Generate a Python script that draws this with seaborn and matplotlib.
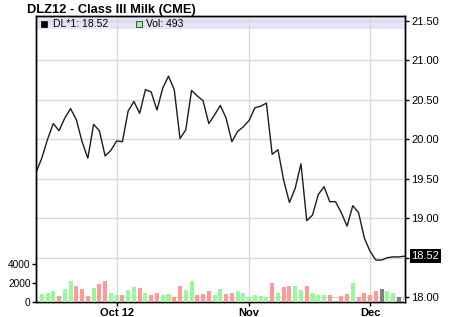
import numpy as np
import pandas as pd
import matplotlib
matplotlib.use("Agg")
import matplotlib.pyplot as plt
import matplotlib.transforms as mtransforms
from matplotlib.patches import Rectangle
import seaborn as sns

# ---------------- data ----------------
title = "DLZ12 - Class III Milk (CME)"
price = [19.58, 19.76, 20.00, 20.20, 20.11, 20.27, 20.39, 20.25, 19.97, 19.76,
         20.19, 20.11, 19.79, 19.86, 19.98, 19.97, 20.36, 20.48, 20.33, 20.63,
         20.60, 20.37, 20.65, 20.80, 20.63, 20.01, 20.12, 20.62, 20.55, 20.49,
         20.20, 20.31, 20.43, 20.27, 19.97, 20.10, 20.16, 20.24, 20.40, 20.42,
         20.46, 19.81, 19.87, 19.48, 19.20, 19.38, 19.69, 18.97, 19.04, 19.30,
         19.40, 19.21, 19.21, 19.07, 18.90, 19.16, 19.07, 18.75, 18.58, 18.47,
         18.47, 18.50, 18.51, 18.51, 18.52]
vol_day = [1, 2, 3, 4, 5, 6, 7, 8, 9, 10, 11, 12, 13, 14, 15, 16, 17, 18, 19, 20,
           21, 22, 23, 24, 25, 26, 27, 28, 29, 30, 31, 32, 33, 34, 35, 36, 37, 38,
           39, 40, 41, 42, 43, 44, 45, 46, 47, 48, 49, 50, 51, 53, 54, 55, 56, 57,
           58, 59, 60, 61, 62, 63, 64]
volume = [860, 960, 1180, 650, 1400, 2260, 1720, 1400, 650, 1530,
          1940, 2260, 970, 750, 750, 1290, 1620, 1510, 970, 760,
          970, 760, 860, 540, 1720, 1290, 2260, 760, 860, 1190,
          760, 1400, 860, 970, 1180, 970, 540, 750, 650, 540,
          2040, 970, 1610, 1720, 1720, 1290, 1720, 970, 750, 750,
          750, 650, 860, 2040, 540, 970, 750, 1180, 1400, 1180,
          970, 540, 493]
vol_dir = ["up", "up", "up", "down", "up", "up", "down", "down", "down", "up",
           "down", "down", "up", "up", "down", "up", "up", "down", "up", "down",
           "down", "up", "up", "down", "down", "up", "up", "down", "down", "down",
           "up", "up", "down", "down", "up", "up", "up", "up", "up", "up",
           "down", "up", "down", "down", "up", "up", "down", "up", "up", "up",
           "down", "down", "down", "up", "down", "down", "down", "down", "flat", "up",
           "up", "flat", "up"]
month_pos = [14, 37, 58]
month_labels = ["Oct 12", "Nov", "Dec"]
price_ticks = [18.00, 18.50, 19.00, 19.50, 20.00, 20.50, 21.00, 21.50]
price_tick_labels = ["18.00", "", "19.00", "19.50", "20.00", "20.50", "21.00", "21.50"]
vol_ticks = [0, 2000, 4000]
vol_tick_labels = ["0", "2000", "4000"]
last_price = 18.52
last_vol = 493

palette = {"up": "#99f899", "down": "#ff9a9a", "flat": "#808080"}

df_price = pd.DataFrame({"day": np.arange(len(price)), "price": price})
df_vol = pd.DataFrame({"day": vol_day, "volume": volume, "dir": vol_dir})

# ---------------- figure ----------------
W, H = 450, 317
plt.rcParams['font.family'] = ['Liberation Sans', 'DejaVu Sans']
fig = plt.figure(figsize=(W / 100, H / 100), dpi=100)
fig.patch.set_facecolor("white")

def fx(x):
    return x / W

def fy(y):
    return 1 - y / H

ax = fig.add_axes([fx(36), fy(302), (405 - 36) / W, (302 - 16) / H])
axv = ax.twinx()

# price line
sns.lineplot(data=df_price, x="day", y="price", ax=ax, color="#1c1c1c",
             linewidth=1.0, zorder=5)

# volume bars
sns.barplot(data=df_vol, x="day", y="volume", hue="dir", palette=palette,
            native_scale=True, dodge=False, width=0.7, legend=False, ax=axv,
            saturation=1, linewidth=0, zorder=3)

ymin_p, ymax_p = 17.9385, 21.5634
ax.set_ylim(ymin_p, ymax_p)
axv.set_ylim(0, 30300)
ax.set_xlim(0, 64.06)

# legend band
ax.axhspan(21.3987, ymax_p, color="#e3e3f9", lw=0, zorder=0.2)

ax.set_axisbelow(True)
ax.grid(True, color="#d9d9d9", linewidth=1.0)
ax.set_xticks(month_pos)
ax.set_xticklabels(month_labels)
ax.set_yticks(price_ticks)
ax.set_yticklabels(price_tick_labels)
ax.yaxis.tick_right()
ax.tick_params(axis="y", right=True, left=False, labelright=True, labelleft=False,
               length=3, width=1, pad=1.5, labelsize=8, colors="black")
ax.tick_params(axis="x", length=3, width=1, pad=1.5, labelsize=8)
for lbl in ax.get_xticklabels():
    lbl.set_fontweight("bold")

axv.set_yticks(vol_ticks)
axv.set_yticklabels(vol_tick_labels)
axv.yaxis.tick_left()
axv.tick_params(axis="y", left=True, right=False, labelleft=True, labelright=False,
                length=3, width=1, pad=1, labelsize=7.3)
axv.grid(False)
for a in (ax, axv):
    a.set_xlabel("")
    a.set_ylabel("")
    for s in a.spines.values():
        s.set_color("black")
        s.set_linewidth(1.0)
axv.patch.set_visible(False)

# last price box
trans = mtransforms.blended_transform_factory(ax.transAxes, ax.transData)
ax.text(1 + 6.5 / 369, last_price, f"{last_price:.2f}", transform=trans,
        color="white", fontsize=8, ha="left", va="center", clip_on=False,
        zorder=10,
        bbox=dict(boxstyle="square,pad=0.15", fc="black", ec="none"))

# title
fig.text(fx(27), fy(13.5), title, fontsize=9.3, fontweight="bold",
         ha="left", va="baseline")

# legend in band
fig.patches.append(Rectangle((fx(41), fy(27)), 6 / W, 6 / H,
                             transform=fig.transFigure, fc="black", ec="black",
                             lw=0.5, zorder=20))
fig.text(fx(53), fy(24), f"DL*1: {last_price:.2f}", fontsize=7.5,
         ha="left", va="center", zorder=20)
fig.patches.append(Rectangle((fx(135.5), fy(27)), 6 / W, 6 / H,
                             transform=fig.transFigure, fc=palette["up"],
                             ec="#333333", lw=0.6, zorder=20))
fig.text(fx(146.5), fy(24), f"Vol: {last_vol}", fontsize=7.5,
         ha="left", va="center", zorder=20)

fig.savefig("out.png", dpi=100)
